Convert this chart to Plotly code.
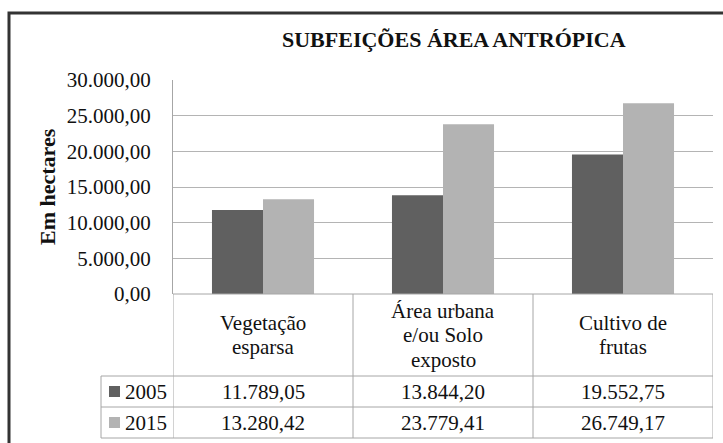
import plotly.graph_objects as go

# Chart data
categories = ["Vegetação<br>esparsa", "Área urbana<br>e/ou Solo<br>exposto", "Cultivo de<br>frutas"]
series_names = ["2005", "2015"]
values_2005 = [11789.05, 13844.20, 19552.75]
values_2015 = [13280.42, 23779.41, 26749.17]
y_ticks = [0, 5000, 10000, 15000, 20000, 25000, 30000]

colors = ["#606060", "#b3b3b3"]
serif = "'Liberation Serif', 'Times New Roman', Times, serif"
line_grey = "#a6a6a6"
text_size = 21

W, H = 723, 443
L, R, T, B = 173, 10, 80, 149
pw, ph = W - L - R, H - T - B


def px_x(x):
    return (x - L) / pw


def px_y(y):
    return (H - B - y) / ph


def br(v):
    s = f"{v:,.2f}"
    return s.replace(",", "X").replace(".", ",").replace("X", ".")


xs = list(range(len(categories)))
fig = go.Figure()
for name, vals, col in zip(series_names, [values_2005, values_2015], colors):
    fig.add_trace(go.Bar(x=xs, y=vals, name=name, marker=dict(color=col, line=dict(width=0)),
                         showlegend=False))

shapes = []
annotations = []

# data-table grid
row_y = [294, 376, 407, 438]
col_x = [-0.5, 0.5, 1.5, 2.5]
for cx in col_x:
    shapes.append(dict(type="line", xref="x", yref="paper", x0=cx, x1=cx,
                       y0=px_y(row_y[0]), y1=px_y(row_y[-1]),
                       line=dict(color=line_grey, width=1)))
shapes.append(dict(type="line", xref="paper", yref="paper", x0=px_x(101), x1=px_x(101),
                   y0=px_y(row_y[1]), y1=px_y(row_y[-1]), line=dict(color=line_grey, width=1)))
shapes.append(dict(type="line", xref="paper", yref="paper", x0=0, x1=1,
                   y0=px_y(row_y[0]), y1=px_y(row_y[0]), line=dict(color=line_grey, width=1)))
for ry in row_y[1:]:
    shapes.append(dict(type="line", xref="paper", yref="paper", x0=px_x(101), x1=1,
                       y0=px_y(ry), y1=px_y(ry), line=dict(color=line_grey, width=1)))

# header cells, one annotation per text line
line_step = 24.5
head_mid = (row_y[0] + row_y[1]) / 2
for i, cat in enumerate(categories):
    lines = cat.split("<br>")
    n = len(lines)
    for k, ln in enumerate(lines):
        yc = head_mid + (k - (n - 1) / 2) * line_step
        annotations.append(dict(x=i, y=px_y(yc), xref="x", yref="paper",
                                text=ln, showarrow=False, xanchor="center", yanchor="middle",
                                font=dict(family=serif, size=text_size, color="#111")))

# value rows with legend keys
for r, (name, vals, col) in enumerate(zip(series_names, [values_2005, values_2015], colors)):
    yc = (row_y[r + 1] + row_y[r + 2]) / 2
    for i, v in enumerate(vals):
        annotations.append(dict(x=i, y=px_y(yc), xref="x", yref="paper", text=br(v),
                                showarrow=False, xanchor="center", yanchor="middle",
                                font=dict(family=serif, size=text_size, color="#111")))
    shapes.append(dict(type="rect", xref="paper", yref="paper",
                       x0=px_x(109), x1=px_x(120), y0=px_y(yc - 5.5), y1=px_y(yc + 5.5),
                       fillcolor=col, line=dict(width=0)))
    annotations.append(dict(x=px_x(123), y=px_y(yc), xref="paper", yref="paper", text=name,
                            showarrow=False, xanchor="left", yanchor="middle",
                            font=dict(family=serif, size=text_size, color="#111")))

# title and axis title
annotations.append(dict(x=px_x(454), y=px_y(39.5), xref="paper", yref="paper",
                        text="<b>SUBFEIÇÕES ÁREA ANTRÓPICA</b>", showarrow=False,
                        xanchor="center", yanchor="middle",
                        font=dict(family=serif, size=22, color="#111")))
annotations.append(dict(x=px_x(47), y=px_y(187), xref="paper", yref="paper",
                        text="<b>Em hectares</b>", showarrow=False, textangle=-90,
                        xanchor="center", yanchor="middle",
                        font=dict(family=serif, size=22, color="#111")))

# chart frame
shapes.append(dict(type="rect", xref="paper", yref="paper",
                   x0=px_x(9), x1=px_x(740), y0=px_y(460), y1=px_y(13),
                   line=dict(color="#333333", width=3), fillcolor="rgba(0,0,0,0)"))

fig.update_layout(
    width=W, height=H,
    margin=dict(l=L, r=R, t=T, b=B, pad=0),
    paper_bgcolor="white", plot_bgcolor="white",
    font=dict(family=serif),
    barmode="group", bargap=0.433, bargroupgap=0,
    separators=",.",
    shapes=shapes, annotations=annotations,
    xaxis=dict(range=[-0.5, 2.5], showticklabels=False, showgrid=False, zeroline=False,
               showline=False, ticks=""),
    yaxis=dict(range=[0, 30000], tickvals=y_ticks, tickformat=",.2f",
               showgrid=True, gridcolor="#b4b4b4", gridwidth=1, zeroline=False,
               showline=True, linecolor=line_grey, linewidth=1,
               ticks="", ticklabelstandoff=17,
               tickfont=dict(family=serif, size=text_size, color="#111")),
)

fig.write_html("out.html")
